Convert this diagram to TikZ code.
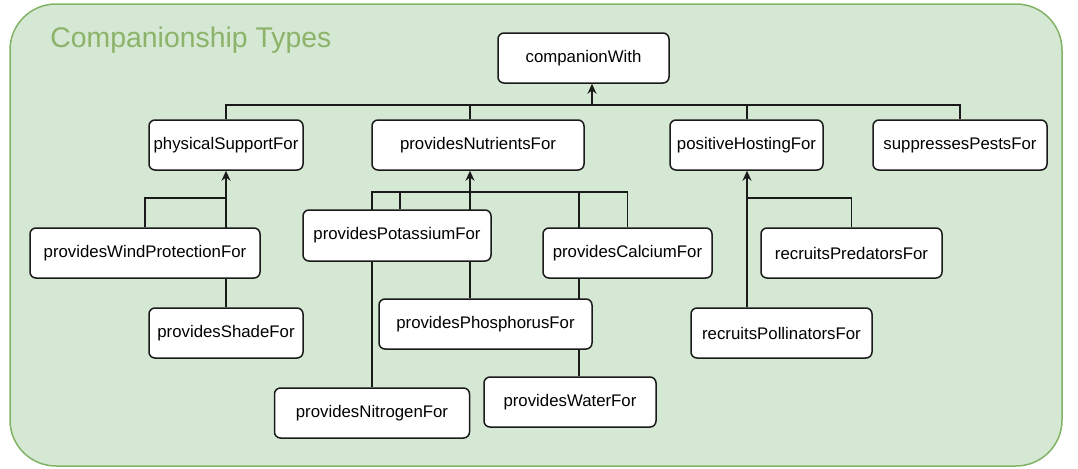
\documentclass[tikz,border=0pt]{standalone}
\usepackage{fontspec}
\setmainfont{Liberation Sans}
\usetikzlibrary{arrows.meta, positioning, backgrounds}
\definecolor{panelfill}{HTML}{D5E8D4}
\definecolor{paneldraw}{HTML}{82B366}
\definecolor{titlegreen}{HTML}{8CB369}
\definecolor{linegray}{HTML}{1A1A1A}

\begin{document}
\begin{tikzpicture}
		[x=0.5pt,y=-0.5pt,
	elem/.style={draw=linegray,fill=white,rectangle,rounded corners=3pt,line width=0.75pt,align=center,minimum height=25pt,inner sep=0pt,font=\fontsize{8.4}{10}\selectfont},
	conn/.style={draw=linegray,line width=0.8pt},
	arr/.style={conn,-{Stealth[length=5pt,width=4.5pt]}}
	]
		\useasboundingbox (0,0) rectangle (1078,468);
		\node (ttl) [anchor=base west,text=titlegreen,font=\fontsize{14.2}{17}\selectfont,inner sep=0pt] at (50,47) {Companionship Types};

		\node (cwi) [elem,minimum width=85.5pt] at (583.5,58) {companionWith};
		\node (phy) [elem,minimum width=77pt] at (226,145) {physicalSupportFor};
		\node (nut) [elem,minimum width=106pt] at (478,145) {providesNutrientsFor};
		\node (hos) [elem,minimum width=76.5pt] at (746.5,145) {positiveHostingFor};
		\node (pes) [elem,minimum width=87pt] at (960,145) {suppressesPestsFor};

		\node (wnd) [elem,minimum width=115pt] at (145,253) {providesWindProtectionFor};
		\node (shd) [elem,minimum width=77pt] at (226,333) {providesShadeFor};

		\node (pot) [elem,minimum width=94pt,minimum height=25.5pt] at (397,235.5) {providesPotassiumFor};
		\node (cal) [elem,minimum width=84.5pt] at (627.5,253) {providesCalciumFor};
		\node (pho) [elem,minimum width=106.5pt] at (485.5,324) {providesPhosphorusFor};
		\node (nit) [elem,minimum width=97.5pt] at (372,413) {providesNitrogenFor};
		\node (wat) [elem,minimum width=86pt] at (570,402) {providesWaterFor};

		\node (pre) [elem,minimum width=90.5pt] at (851.5,253) {recruitsPredatorsFor};
		\node (pol) [elem,minimum width=90.5pt] at (781.5,333) {recruitsPollinatorsFor};

		% junction points of the buses
		\coordinate (top) at (592,105);
		\coordinate (phyj) at (226,198);
		\coordinate (nutj) at (470,192);
		\coordinate (watc) at (579,192);
		\coordinate (hosj) at (747,198);

		\begin{scope}[on background layer]
		\draw [fill=panelfill,draw=paneldraw,line width=0.75pt,rounded corners=23pt] (10,4) rectangle (1062,466);

		\draw [arr] (top) -- (cwi.south -| top);
		\draw [conn] (phy.north) |- (top);
		\draw [conn] (nut.north -| nutj) |- (top);
		\draw [conn] (hos.north -| hosj) |- (top);
		\draw [conn] (pes.north) |- (top);

		\draw [arr] (shd.north) -- (phy.south);
		\draw [conn] (wnd.north) |- (phyj);

		\draw [arr] (nutj) -- (nut.south -| nutj);
		\draw [conn] (nit.north) |- (nutj);
		\draw [conn] (pot.north -| 400,0) |- (nutj);
		\draw [conn] (pho.north -| nutj) -- (nutj);
		\draw [conn] (wat.north -| watc) -- (watc);
		\draw [conn] (cal.north) |- (nutj);

		\draw [arr] (pol.north -| hosj) -- (hos.south -| hosj);
		\draw [conn] (pre.north) |- (hosj);
		\end{scope}
	\end{tikzpicture}
\end{document}
